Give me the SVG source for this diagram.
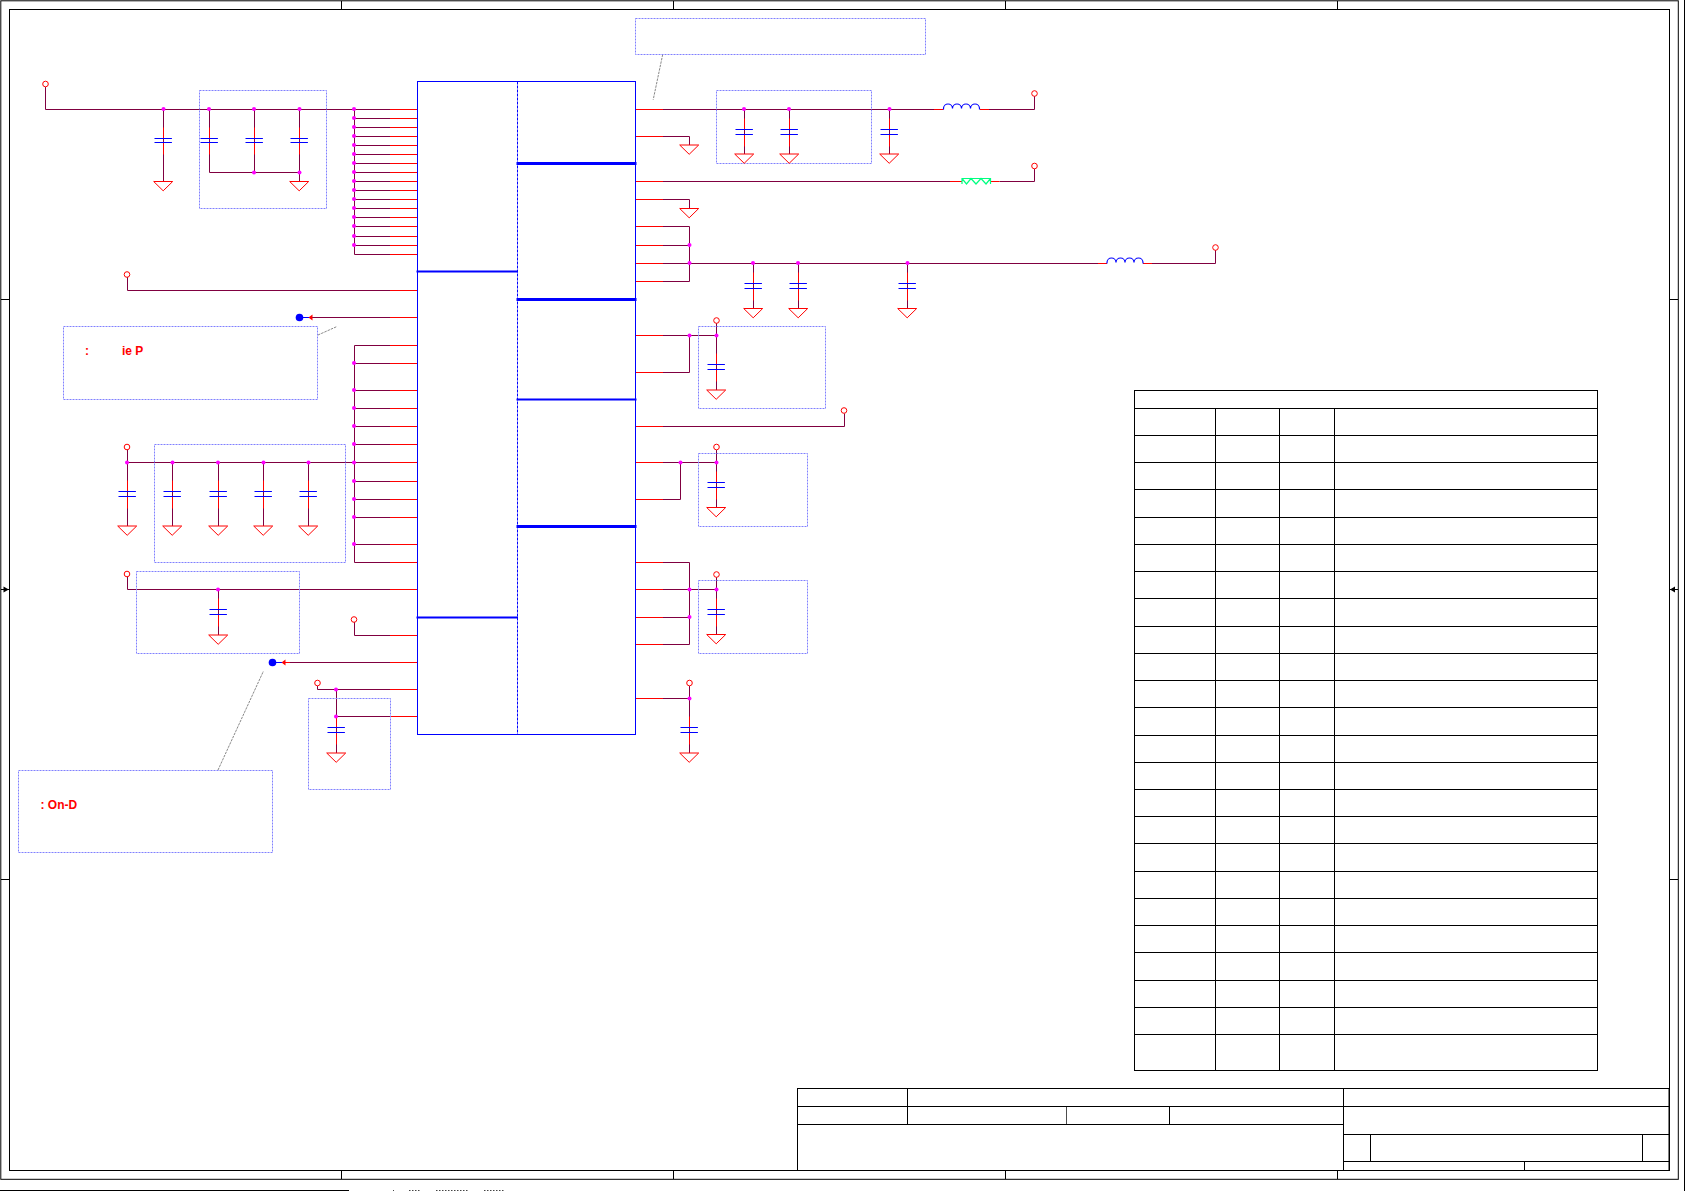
<svg xmlns="http://www.w3.org/2000/svg" width="1685" height="1191" viewBox="0 0 1685 1191">
<style>
.frame{fill:none;stroke:#000;stroke-width:1}
.wire{fill:none;stroke:#800040;stroke-width:1}
.pin{fill:none;stroke:#f00;stroke-width:1}
.body{fill:none;stroke:#00f;stroke-width:1}
.plate{fill:none;stroke:#00f;stroke-width:1.2}
.note{fill:none;stroke:#8080ff;stroke-width:1;stroke-dasharray:2 1}
.lead{fill:none;stroke:#555;stroke-width:.7;stroke-dasharray:2.5 1}
.lbl{font-family:"Liberation Sans",Arial,sans-serif;font-size:12px;font-weight:700;fill:#f00}
</style>
<defs>
<g id="capA"><path class="pin" d="M.5-11V0M.5 4V16"/><path class="plate" d="M-8.5 0H8.9M-8.5 4H8.9"/></g>
<g id="capB"><path class="pin" d="M.5-11V0M.5 5V17"/><path class="plate" d="M-8.5 0H8.9M-8.5 5H8.9"/></g>
<path id="gnd" d="M-9.3 0H9.7L.2 9.3Z" fill="#fff" stroke="#f00" stroke-width="1"/>
<circle id="term" r="2.8" fill="#fff" stroke="#f00" stroke-width="1"/>
<circle id="dot" r="2" fill="#f0f"/>
<path id="ind" d="M0 0V-1a4.5 4.5 0 0 1 9 0a4.5 4.5 0 0 1 9 0a4.5 4.5 0 0 1 9 0a4.5 4.5 0 0 1 9 0V0" fill="none" stroke="#00f" stroke-width="1.2"/>
</defs>

<g id="frame">
<rect class="frame" x=".8" y=".8" width="1677.5" height="1178.5"/>
<rect class="frame" x="9.5" y="9.5" width="1660" height="1161"/>
<path class="frame" d="M1684.5 0V1191M0 1190.5H349"/>
<path class="frame" d="M341.5 1V9.5M673.5 1V9.5M1005.5 1V9.5M1337.5 1V9.5M341.5 1170.5V1179M673.5 1170.5V1179M1005.5 1170.5V1179M1337.5 1170.5V1179M1 299.5H9.5M1 879.5H9.5M1669.5 299.5H1678M1669.5 879.5H1678M1 589.5H9.5M1669.5 589.5H1678"/>
<path d="M3.5 586.5V592.5L8.8 589.5ZM1670 589.5L1675 586.5V592.5Z" fill="#000"/>
<path d="M393 1190.5H394M409 1190.5H420M436 1190.5H469M484 1190.5H504" fill="none" stroke="#444" stroke-dasharray="1.5 1.5"/>
</g>

<g id="connectors">
<path class="wire" d="M45.5 87V109.5H390M354.5 109.5V254.5M354.5 118.5H390M354.5 127.5H390M354.5 136.5H390M354.5 145.5H390M354.5 154.5H390M354.5 163.5H390M354.5 172.5H390M354.5 181.5H390M354.5 190.5H390M354.5 199.5H390M354.5 208.5H390M354.5 217.5H390M354.5 226.5H390M354.5 236.5H390M354.5 245.5H390M354.5 254.5H390"/>
<path class="wire" d="M163.5 109.5V181.5M209.5 109.5V172.5H299.5M254.5 109.5V172.5M299.5 109.5V181.5"/>
<path class="wire" d="M127.5 277V290.5H390M312 317.5H390"/>
<path class="wire" d="M354.5 345.5V562.5M354.5 345.5H390M354.5 363.5H390M354.5 390.5H390M354.5 408.5H390M354.5 426.5H390M354.5 444.5H390M354.5 481.5H390M354.5 499.5H390M354.5 517.5H390M354.5 544.5H390M354.5 562.5H390"/>
<path class="wire" d="M127.5 450V526M127.5 462.5H390M172.5 462.5V526M218.5 462.5V526M263.5 462.5V526M308.5 462.5V526"/>
<path class="wire" d="M127.5 577V589.5H390M218.5 589.5V635"/>
<path class="wire" d="M354.5 622V635.5H390M290 662.5H390M317.5 686V689.5H390M336.5 689.5V753M336.5 716.5H390"/>
<path class="wire" d="M663 109.5H934M989 109.5H1034.5V96M744.5 109.5V154M789.5 109.5V154M889.5 109.5V154"/>
<path class="wire" d="M663 136.5H689.5V145M663 199.5H689.5V208.5"/>
<path class="wire" d="M663 181.5H950M999.5 181.5H1034.5V168.5"/>
<path class="wire" d="M663 226.5H689.5V281.5H663M663 245.5H689.5M663 263.5H1098M1152 263.5H1215.5V250M753.5 263.5V308.5M798.5 263.5V308.5M907.5 263.5V308.5"/>
<path class="wire" d="M663 335.5H716.5M663 372.5H689.5V335.5M716.5 323V390"/>
<path class="wire" d="M663 426.5H844.5V413.5"/>
<path class="wire" d="M663 462.5H716.5M663 499.5H680.5V462.5M716.5 450V507"/>
<path class="wire" d="M663 562.5H689.5V644.5H663M663 589.5H716.5M663 617.5H689.5M716.5 577V634"/>
<path class="wire" d="M663 698.5H689.5M689.5 686V753"/>
<path class="pin" d="M390 109.5H417M390 118.5H417M390 127.5H417M390 136.5H417M390 145.5H417M390 154.5H417M390 163.5H417M390 172.5H417M390 181.5H417M390 190.5H417M390 199.5H417M390 208.5H417M390 217.5H417M390 226.5H417M390 236.5H417M390 245.5H417M390 254.5H417M390 290.5H417M390 317.5H417M390 345.5H417M390 363.5H417M390 390.5H417M390 408.5H417M390 426.5H417M390 444.5H417M390 462.5H417M390 481.5H417M390 499.5H417M390 517.5H417M390 544.5H417M390 562.5H417M390 589.5H417M390 635.5H417M390 662.5H417M390 689.5H417M390 716.5H417"/>
<path class="pin" d="M636 109.5H663M636 136.5H663M636 181.5H663M636 199.5H663M636 226.5H663M636 245.5H663M636 263.5H663M636 281.5H663M636 335.5H663M636 372.5H663M636 426.5H663M636 462.5H663M636 499.5H663M636 562.5H663M636 589.5H663M636 617.5H663M636 644.5H663M636 698.5H663"/>
<path class="pin" d="M934 109.5H943.5M980 109.5H989M950 181.5H962M990.5 181.5H999.5M1098 263.5H1107M1143 263.5H1152M285 662.5H290"/>
<path class="lead" d="M318 335L337 326.5M218 770L263.5 671M662.7 54.5L653.2 99.7"/>
</g>

<g id="IC1">
<rect class="body" x="417.5" y="81.5" width="218" height="653"/>
<path d="M517.5 81.5V734.5" fill="none" stroke="#00f" stroke-dasharray="3 1"/>
<path d="M416.5 271.5H518M416.5 617.5H518M516.5 399.5H636.5" fill="none" stroke="#00f" stroke-width="2"/>
<path d="M516.5 163.5H636.5M516.5 299.5H636.5M516.5 526.5H636.5" fill="none" stroke="#00f" stroke-width="3"/>
</g>

<g id="notes">
<rect class="note" x="199.5" y="90.5" width="127" height="118"/>
<rect class="note" x="63.5" y="326.5" width="254" height="73"/>
<rect class="note" x="154.5" y="444.5" width="191" height="118"/>
<rect class="note" x="136.5" y="571.5" width="163" height="82"/>
<rect class="note" x="308.5" y="698.5" width="82" height="91"/>
<rect class="note" x="18.5" y="770.5" width="254" height="82"/>
<rect class="note" x="635.5" y="18.5" width="290" height="36"/>
<rect class="note" x="716.5" y="90.5" width="155" height="73"/>
<rect class="note" x="698.5" y="326.5" width="127" height="82"/>
<rect class="note" x="698.5" y="453.5" width="109" height="73"/>
<rect class="note" x="698.5" y="580.5" width="109" height="73"/>
<text class="lbl" x="85" y="355">:</text>
<text class="lbl" x="122" y="355">ie P</text>
<text class="lbl" x="40.5" y="809">: On-D</text>
</g>

<g id="C1"><use href="#capA" x="163" y="138.5"/><use href="#gnd" x="163" y="181.5"/></g>
<g id="C2"><use href="#capA" x="209" y="138.5"/></g>
<g id="C3"><use href="#capA" x="254" y="138.5"/></g>
<g id="C4"><use href="#capA" x="299" y="138.5"/><use href="#gnd" x="299" y="181.5"/></g>
<g id="C5"><use href="#capB" x="127" y="491.5"/><use href="#gnd" x="127" y="526"/></g>
<g id="C6"><use href="#capB" x="172" y="491.5"/><use href="#gnd" x="172" y="526"/></g>
<g id="C7"><use href="#capB" x="218" y="491.5"/><use href="#gnd" x="218" y="526"/></g>
<g id="C8"><use href="#capB" x="263" y="491.5"/><use href="#gnd" x="263" y="526"/></g>
<g id="C9"><use href="#capB" x="308" y="491.5"/><use href="#gnd" x="308" y="526"/></g>
<g id="C10"><use href="#capB" x="218" y="609.5"/><use href="#gnd" x="218" y="635"/></g>
<g id="C11"><use href="#capB" x="336" y="727.5"/><use href="#gnd" x="336" y="753"/></g>
<g id="C12"><use href="#capB" x="744" y="129.5"/><use href="#gnd" x="744" y="154"/></g>
<g id="C13"><use href="#capB" x="789" y="129.5"/><use href="#gnd" x="789" y="154"/></g>
<g id="C14"><use href="#capB" x="889" y="129.5"/><use href="#gnd" x="889" y="154"/></g>
<g id="C15"><use href="#capB" x="753" y="283.5"/><use href="#gnd" x="753" y="308.5"/></g>
<g id="C16"><use href="#capB" x="798" y="283.5"/><use href="#gnd" x="798" y="308.5"/></g>
<g id="C17"><use href="#capB" x="907" y="283.5"/><use href="#gnd" x="907" y="308.5"/></g>
<g id="C18"><use href="#capB" x="716" y="364.5"/><use href="#gnd" x="716" y="390"/></g>
<g id="C19"><use href="#capB" x="716" y="482.5"/><use href="#gnd" x="716" y="507.5"/></g>
<g id="C20"><use href="#capB" x="716" y="609.5"/><use href="#gnd" x="716" y="634.5"/></g>
<g id="C21"><use href="#capB" x="689" y="727.5"/><use href="#gnd" x="689" y="753"/></g>
<g id="GND1"><use href="#gnd" x="689" y="145"/></g>
<g id="GND2"><use href="#gnd" x="689" y="208.5"/></g>

<g id="L1"><use href="#ind" x="943.5" y="109.5"/></g>
<g id="L2"><use href="#ind" x="1107" y="263.5"/></g>
<g id="R1"><path d="M962 184V178.5H990.5V184M962 178.5L966.5 184L971 178.5L976 184L981 178.5L986 184L990.5 178.5" fill="none" stroke="#00ff80" stroke-width="1.2"/></g>

<g id="terminals">
<use href="#term" x="45.5" y="84"/><use href="#term" x="127" y="274.5"/><use href="#term" x="127" y="447"/><use href="#term" x="127" y="574"/><use href="#term" x="354" y="619.5"/><use href="#term" x="317.5" y="683"/><use href="#term" x="1034.5" y="93.5"/><use href="#term" x="1034.5" y="166"/><use href="#term" x="1215.5" y="247.5"/><use href="#term" x="716.5" y="320.5"/><use href="#term" x="844" y="410.5"/><use href="#term" x="716.5" y="447"/><use href="#term" x="716.5" y="574.5"/><use href="#term" x="689.5" y="683"/>
</g>

<g id="off-page-1"><path d="M303 317.5H309" stroke="#00f" fill="none"/><path d="M308.5 317.5L312.5 314.5V320.5Z" fill="#f00"/><circle cx="299.5" cy="317.5" r="3.8" fill="#00f"/></g>
<g id="off-page-2"><path d="M276 662.5H282" stroke="#00f" fill="none"/><path d="M281.5 662.5L285.5 659.5V665.5Z" fill="#f00"/><circle cx="272.5" cy="662.5" r="3.8" fill="#00f"/></g>

<g id="junctions">
<use href="#dot" x="163.5" y="109"/><use href="#dot" x="209" y="109"/><use href="#dot" x="254" y="109"/><use href="#dot" x="299.5" y="109"/><use href="#dot" x="254" y="172.5"/><use href="#dot" x="299.5" y="172.5"/>
<use href="#dot" x="354" y="109"/><use href="#dot" x="354" y="118"/><use href="#dot" x="354" y="127"/><use href="#dot" x="354" y="136"/><use href="#dot" x="354" y="145"/><use href="#dot" x="354" y="154"/><use href="#dot" x="354" y="163"/><use href="#dot" x="354" y="172"/><use href="#dot" x="354" y="181"/><use href="#dot" x="354" y="190"/><use href="#dot" x="354" y="199"/><use href="#dot" x="354" y="208"/><use href="#dot" x="354" y="217"/><use href="#dot" x="354" y="226"/><use href="#dot" x="354" y="236"/><use href="#dot" x="354" y="245"/>
<use href="#dot" x="354" y="363"/><use href="#dot" x="354" y="390"/><use href="#dot" x="354" y="408"/><use href="#dot" x="354" y="426"/><use href="#dot" x="354" y="444"/><use href="#dot" x="354" y="462.5"/><use href="#dot" x="354" y="481"/><use href="#dot" x="354" y="499"/><use href="#dot" x="354" y="517"/><use href="#dot" x="354" y="544"/>
<use href="#dot" x="127" y="462.5"/><use href="#dot" x="172.5" y="462.5"/><use href="#dot" x="218" y="462.5"/><use href="#dot" x="263.5" y="462.5"/><use href="#dot" x="308.5" y="462.5"/>
<use href="#dot" x="218" y="589.5"/><use href="#dot" x="336" y="689.5"/><use href="#dot" x="336" y="716.5"/>
<use href="#dot" x="744" y="109"/><use href="#dot" x="789" y="109"/><use href="#dot" x="889.5" y="109"/>
<use href="#dot" x="689.5" y="245"/><use href="#dot" x="689.5" y="263"/><use href="#dot" x="753" y="263"/><use href="#dot" x="798" y="263"/><use href="#dot" x="907.5" y="263"/>
<use href="#dot" x="689.5" y="335.5"/><use href="#dot" x="716.5" y="335.5"/><use href="#dot" x="680.5" y="462.5"/><use href="#dot" x="716.5" y="462.5"/>
<use href="#dot" x="689.5" y="589.5"/><use href="#dot" x="716.5" y="589.5"/><use href="#dot" x="689.5" y="617"/><use href="#dot" x="689.5" y="698.5"/>
</g>

<g id="table">
<rect class="frame" x="1134.5" y="390.5" width="463" height="680"/>
<path class="frame" d="M1134.5 408.5H1597.5M1134.5 435.5H1597.5M1134.5 462.5H1597.5M1134.5 489.5H1597.5M1134.5 517.5H1597.5M1134.5 544.5H1597.5M1134.5 571.5H1597.5M1134.5 598.5H1597.5M1134.5 626.5H1597.5M1134.5 653.5H1597.5M1134.5 680.5H1597.5M1134.5 707.5H1597.5M1134.5 735.5H1597.5M1134.5 762.5H1597.5M1134.5 789.5H1597.5M1134.5 816.5H1597.5M1134.5 843.5H1597.5M1134.5 871.5H1597.5M1134.5 898.5H1597.5M1134.5 925.5H1597.5M1134.5 952.5H1597.5M1134.5 980.5H1597.5M1134.5 1007.5H1597.5M1134.5 1034.5H1597.5"/>
<path class="frame" d="M1215.5 408.5V1070.5M1279.5 408.5V1070.5M1334.5 408.5V1070.5"/>
</g>

<g id="title-block">
<rect class="frame" x="797.5" y="1088.5" width="871.5" height="82"/>
<path class="frame" d="M797.5 1106.5H1669M797.5 1124.5H1343.5M907.5 1088.5V1124.5M1169.5 1106.5V1124.5M1343.5 1088.5V1170.5M1343.5 1134.5H1669M1343.5 1161.5H1669M1370.5 1134.5V1161.5M1642.5 1134.5V1161.5M1524.5 1161.5V1170.5"/>
<path d="M1066.5 1106.5V1124.5" stroke="#000" stroke-width=".7" fill="none"/>
</g>
</svg>
